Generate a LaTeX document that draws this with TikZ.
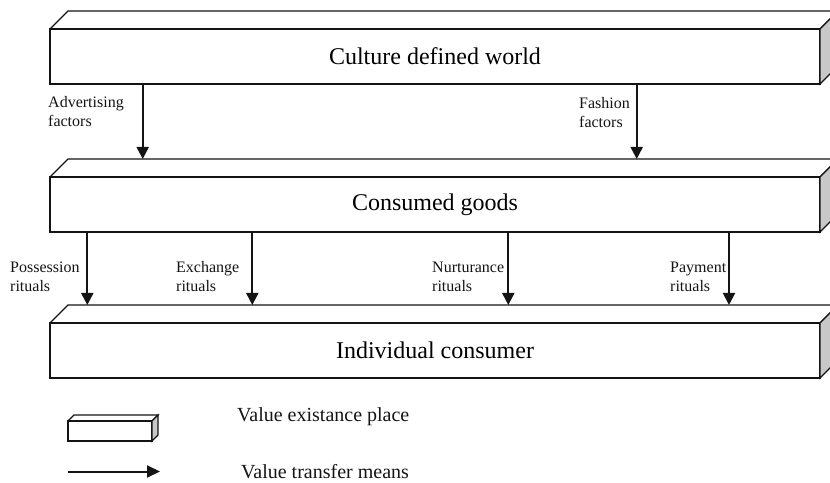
\documentclass[tikz,border=0pt]{standalone}
\usepackage{fontspec}
\setmainfont{Liberation Serif}
\definecolor{inkblack}{RGB}{20, 20, 20}
\definecolor{sidegray}{RGB}{200, 200, 200}
\usepackage{tikz}
\usetikzlibrary{arrows.meta, positioning, calc}
\tikzset{
  slab/.style={rectangle, draw=inkblack, fill=white, line width=1.4pt, inner sep=0pt, outer sep=0pt,
    minimum width=#1, minimum height=55pt, font=\fontsize{24}{28}\selectfont},
  slab/.default=770pt,
  slabline/.style={draw=inkblack, line width=1.4pt, line join=miter},
  flow/.style={draw=inkblack, line width=2pt, -{Triangle[length=12pt, width=12pt]}},
  ritual/.style={anchor=west, align=left, inner sep=0pt, font=\fontsize{16}{19}\selectfont, text=inkblack},
  legendtext/.style={anchor=west, inner sep=0pt, font=\fontsize{20}{24}\selectfont, text=inkblack},
}
% top and right faces of a slab
\newcommand{\slabfaces}[2]{%
  \draw[slabline] (#1.north west) -- ++(#2,#2) -- ([shift={(#2,#2)}]#1.north east) -- (#1.north east);
  \filldraw[slabline, fill=sidegray] (#1.north east) -- ++(#2,#2) -- ([shift={(#2,#2)}]#1.south east) -- (#1.south east) -- cycle;
}

\begin{document}
\begin{tikzpicture}[x=1pt, y=1pt]
\clip (0,0) rectangle (830,482);

% places where value lives
\node[slab] (culture) at (435,425.5) {Culture defined world};
\slabfaces{culture}{18pt}
\node[slab] (goods) at (435,277.5) {Consumed goods};
\slabfaces{goods}{18pt}
\node[slab] (consumer) at (435,131.5) {Individual consumer};
\slabfaces{consumer}{18pt}

% culture -> goods
\draw[flow] ([xshift=92.7pt]culture.south west) -- ([shift={(92.7pt,18pt)}]goods.north west);
\draw[flow] ([xshift=586.7pt]culture.south west) -- ([shift={(586.7pt,18pt)}]goods.north west);
\node[ritual] (advert) at (48,370.5) {Advertising\\factors};
\node[ritual] (fashion) at (579,369.5) {Fashion\\factors};

% goods -> consumer
\draw[flow] ([xshift=37.3pt]goods.south west) -- ([shift={(37.3pt,18pt)}]consumer.north west);
\draw[flow] ([xshift=202.3pt]goods.south west) -- ([shift={(202.3pt,18pt)}]consumer.north west);
\draw[flow] ([xshift=458.3pt]goods.south west) -- ([shift={(458.3pt,18pt)}]consumer.north west);
\draw[flow] ([xshift=679pt]goods.south west) -- ([shift={(679pt,18pt)}]consumer.north west);
\node[ritual] (possession) at (10,205) {Possession\\rituals};
\node[ritual] (exchange) at (176,205) {Exchange\\rituals};
\node[ritual] (nurturance) at (432,205) {Nurturance\\rituals};
\node[ritual] (payment) at (670,205) {Payment\\rituals};

% legend
\node[slab=84pt, minimum height=20pt] (keybox) at (110,51) {};
\slabfaces{keybox}{6pt}
\coordinate (keyfrom) at (68,10.5);
\coordinate (keyto) at (160,10.5);
\draw[flow, -{Triangle[length=13pt, width=12pt]}] (keyfrom) -- (keyto);
\node[legendtext] (placetext) at (237,65) {Value existance place};
\node[legendtext] (meanstext) at (241,10.5) {Value transfer means};
\end{tikzpicture}
\end{document}
